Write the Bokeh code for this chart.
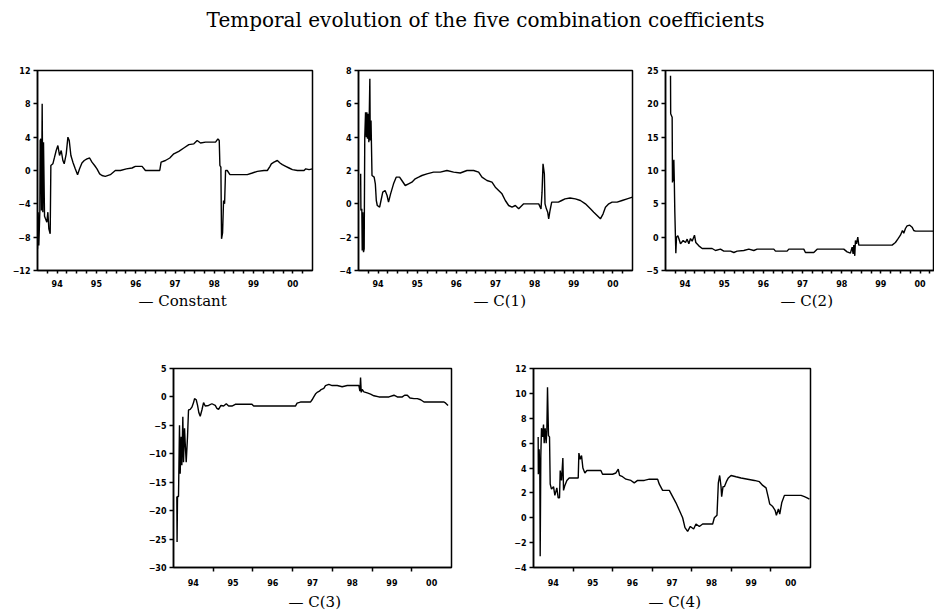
from bokeh.plotting import figure
from bokeh.models import Range1d, FixedTicker, CustomJSTickFormatter, Title, Spacer
from bokeh.layouts import column, row
from bokeh.embed import file_html
from bokeh.resources import INLINE
from bokeh.core.validation import silence
from bokeh.core.validation.warnings import MISSING_RENDERERS

silence(MISSING_RENDERERS, True)

TITLE = "Temporal evolution of the five combination coefficients"
YEARS = [1994, 1995, 1996, 1997, 1998, 1999, 2000]
X_END = 2001

# ---- series: decimal year / value ----
const_x = [1994.000, 1994.017, 1994.034, 1994.060, 1994.068, 1994.085, 1994.102, 1994.119, 1994.136, 1994.153,
           1994.179, 1994.204, 1994.238, 1994.264, 1994.289, 1994.323, 1994.340, 1994.391, 1994.434, 1994.476,
           1994.519, 1994.561, 1994.604, 1994.646, 1994.680, 1994.731, 1994.774, 1994.808, 1994.850, 1994.901,
           1994.961, 1995.020, 1995.071, 1995.131, 1995.190, 1995.259, 1995.327, 1995.386, 1995.454, 1995.514,
           1995.582, 1995.641, 1995.726, 1995.854, 1995.981, 1996.109, 1996.262, 1996.406, 1996.491, 1996.662,
           1996.747, 1996.917, 1997.044, 1997.112, 1997.146, 1997.257, 1997.367, 1997.469, 1997.597, 1997.724,
           1997.852, 1997.980, 1998.065, 1998.150, 1998.277, 1998.405, 1998.532, 1998.592, 1998.626, 1998.643,
           1998.668, 1998.685, 1998.711, 1998.736, 1998.762, 1998.787, 1998.830, 1998.898, 1999.000, 1999.170,
           1999.340, 1999.468, 1999.595, 1999.765, 1999.850, 1999.918, 1999.952, 2000.020, 2000.105, 2000.173,
           2000.233, 2000.318, 2000.403, 2000.488, 2000.616, 2000.786, 2000.828, 2000.913, 2000.998]
const_y = [-9.4, -5.0, -9.0, -4.8, 3.6, 3.8, -4.8, 8.0, -5.0, 3.4,
           -5.5, -5.8, -6.2, -5.0, -7.0, -7.6, 0.6, 0.8, 1.6, 2.4,
           3.0, 1.8, 2.4, 1.2, 0.8, 2.0, 4.0, 3.6, 1.8, 1.0,
           0.2, -0.5, 0.2, 0.9, 1.2, 1.4, 1.5, 1.0, 0.6, 0.2,
           -0.4, -0.6, -0.7, -0.5, 0.0, 0.0, 0.2, 0.3, 0.5, 0.5,
           0.0, 0.0, 0.0, 0.0, 1.0, 1.2, 1.5, 2.0, 2.3, 2.7,
           3.1, 3.2, 3.6, 3.3, 3.4, 3.4, 3.4, 3.8, 3.6, 0.6,
           0.4, -8.2, -7.5, -3.6, -4.0, 0.0, 0.0, -0.5, -0.5, -0.5,
           -0.5, -0.3, -0.1, 0.0, 0.0, 0.5, 0.8, 1.0, 1.2, 0.9,
           0.7, 0.5, 0.3, 0.1, 0.0, 0.0, 0.2, 0.1, 0.2]

c1_x = [1994.055, 1994.062, 1994.085, 1994.095, 1994.111, 1994.128, 1994.145, 1994.160, 1994.180, 1994.200,
        1994.213, 1994.230, 1994.250, 1994.264, 1994.290, 1994.300, 1994.320, 1994.345, 1994.400, 1994.430,
        1994.455, 1994.480, 1994.540, 1994.575, 1994.620, 1994.680, 1994.730, 1994.767, 1994.820, 1994.895,
        1994.963, 1995.049, 1995.108, 1995.194, 1995.279, 1995.364, 1995.449, 1995.535, 1995.620, 1995.748,
        1995.918, 1996.089, 1996.259, 1996.430, 1996.600, 1996.771, 1996.941, 1997.069, 1997.154, 1997.282,
        1997.410, 1997.495, 1997.581, 1997.666, 1997.751, 1997.836, 1997.922, 1998.007, 1998.092, 1998.220,
        1998.348, 1998.476, 1998.604, 1998.663, 1998.689, 1998.714, 1998.748, 1998.765, 1998.800, 1998.834,
        1998.859, 1998.893, 1998.936, 1999.021, 1999.106, 1999.191, 1999.276, 1999.404, 1999.540, 1999.669,
        1999.797, 1999.925, 2000.010, 2000.096, 2000.181, 2000.249, 2000.309, 2000.394, 2000.479, 2000.607,
        2000.735, 2000.863, 2001.000]
c1_y = [1.8, -0.4, -0.3, -2.8, -0.5, -2.9, -2.7, 4.0, 5.5, 4.0,
        5.5, 3.9, 5.4, 3.7, 7.5, 3.8, 5.0, 1.7, 1.6, 1.2,
        0.2, -0.1, -0.2, 0.2, 0.7, 0.8, 0.5, 0.1, 0.6, 1.2,
        1.6, 1.6, 1.4, 1.1, 1.2, 1.3, 1.5, 1.6, 1.7, 1.8,
        1.9, 1.9, 2.0, 1.9, 1.85, 2.0, 2.0, 1.9, 1.6, 1.4,
        1.3, 1.0, 0.8, 0.6, 0.2, -0.1, -0.2, -0.1, -0.3, 0.0,
        0.0, 0.0, 0.0, -0.3, 0.7, 2.4, 1.8, 0.0, -0.3, -0.5,
        -0.9, -0.4, 0.1, 0.1, 0.1, 0.2, 0.3, 0.35, 0.3, 0.2,
        0.0, -0.3, -0.5, -0.7, -0.9, -0.6, -0.2, 0.0, 0.1, 0.1,
        0.2, 0.3, 0.4]

c2_x = [1994.128, 1994.132, 1994.170, 1994.178, 1994.190, 1994.200, 1994.213, 1994.225, 1994.238, 1994.264,
        1994.281, 1994.315, 1994.340, 1994.383, 1994.451, 1994.511, 1994.553, 1994.596, 1994.638, 1994.681,
        1994.740, 1994.774, 1994.851, 1994.936, 1995.064, 1995.191, 1995.277, 1995.404, 1995.489, 1995.660,
        1995.745, 1995.830, 1996.000, 1996.128, 1996.255, 1996.340, 1996.766, 1996.809, 1997.106, 1997.149,
        1997.532, 1997.574, 1997.787, 1997.872, 1998.128, 1998.553, 1998.638, 1998.723, 1998.766, 1998.791,
        1998.809, 1998.834, 1998.851, 1998.877, 1998.911, 1998.936, 1999.149, 1999.489, 1999.660, 1999.787,
        1999.872, 1999.932, 2000.000, 2000.051, 2000.085, 2000.128, 2000.170, 2000.238, 2000.298, 2000.340,
        2000.383, 2000.596, 2000.894, 2001.000]
c2_y = [24.2, 18.5, 18.0, 8.2, 11.4, 8.4, 11.6, 8.4, 3.8, -2.4,
        0.0, 0.2, -0.2, -1.0, -0.5, -0.8, -0.3, -1.0, -0.2, -0.6,
        0.3, -0.8, -1.3, -1.7, -1.7, -1.7, -2.0, -1.8, -2.1, -2.1,
        -2.3, -2.1, -2.0, -1.8, -2.0, -1.8, -1.8, -2.1, -2.1, -1.8,
        -1.8, -2.3, -2.3, -1.8, -1.8, -1.8, -2.2, -2.4, -1.5, -2.5,
        -1.2, -2.8, -0.5, -1.0, 0.0, -1.2, -1.2, -1.2, -1.2, -1.2,
        -0.8, -0.3, 0.3, 1.0, 0.6, 1.3, 1.7, 1.8, 1.5, 1.0,
        0.9, 0.9, 0.9, 0.9]

c3_x = [1994.084, 1994.090, 1994.101, 1994.126, 1994.151, 1994.168, 1994.193, 1994.210, 1994.235, 1994.252,
        1994.278, 1994.294, 1994.320, 1994.353, 1994.378, 1994.421, 1994.463, 1994.505, 1994.530, 1994.572,
        1994.606, 1994.639, 1994.673, 1994.715, 1994.757, 1994.799, 1994.883, 1994.967, 1995.051, 1995.093,
        1995.135, 1995.194, 1995.262, 1995.329, 1995.388, 1995.472, 1995.556, 1995.682, 1995.850, 1995.976,
        1996.018, 1996.355, 1996.775, 1997.070, 1997.112, 1997.196, 1997.364, 1997.448, 1997.490, 1997.532,
        1997.574, 1997.616, 1997.675, 1997.717, 1997.785, 1997.827, 1997.911, 1997.995, 1998.121, 1998.247,
        1998.373, 1998.542, 1998.668, 1998.693, 1998.710, 1998.727, 1998.752, 1998.794, 1998.878, 1998.962,
        1999.046, 1999.172, 1999.299, 1999.425, 1999.551, 1999.635, 1999.761, 1999.820, 1999.887, 1999.955,
        2000.056, 2000.140, 2000.224, 2000.308, 2000.476, 2000.644, 2000.812, 2000.854, 2000.913]
c3_y = [-17.5, -25.5, -17.5, -17.5, -5.0, -13.5, -7.0, -12.0, -3.5, -11.5,
        -5.5, -8.0, -11.5, -7.0, -2.3, -2.2, -1.8, -1.0, -0.3, -0.5,
        -1.5, -2.8, -3.4, -2.3, -1.0, -1.6, -1.5, -1.2, -1.5, -2.0,
        -2.2, -1.5, -1.6, -1.2, -1.6, -1.6, -1.3, -1.3, -1.3, -1.3,
        -1.6, -1.6, -1.6, -1.6, -1.1, -0.9, -0.9, -0.9, -0.5, 0.0,
        0.5, 0.8, 1.0, 1.3, 1.5, 2.0, 2.2, 2.0, 2.0, 1.8,
        2.0, 2.0, 2.0, 1.0, 3.4, 0.8, 1.3, 0.9, 0.7, 0.5,
        0.2, 0.0, 0.0, 0.0, 0.3, 0.0, 0.0, 0.3, 0.3, -0.2,
        -0.3, -0.3, -0.5, -0.9, -0.9, -0.9, -0.9, -1.1, -1.5]

c4_x = [1994.118, 1994.122, 1994.143, 1994.160, 1994.169, 1994.185, 1994.202, 1994.228, 1994.253, 1994.270,
        1994.295, 1994.320, 1994.337, 1994.354, 1994.379, 1994.405, 1994.422, 1994.455, 1994.506, 1994.540,
        1994.590, 1994.624, 1994.658, 1994.675, 1994.708, 1994.742, 1994.759, 1994.793, 1994.843, 1994.902,
        1994.987, 1995.071, 1995.130, 1995.147, 1995.180, 1995.214, 1995.248, 1995.298, 1995.349, 1995.450,
        1995.577, 1995.703, 1995.745, 1995.872, 1995.998, 1996.083, 1996.142, 1996.175, 1996.251, 1996.336,
        1996.462, 1996.546, 1996.631, 1996.799, 1996.926, 1997.137, 1997.179, 1997.263, 1997.432, 1997.516,
        1997.600, 1997.685, 1997.769, 1997.828, 1997.895, 1997.963, 1998.047, 1998.106, 1998.191, 1998.275,
        1998.401, 1998.528, 1998.570, 1998.637, 1998.671, 1998.705, 1998.739, 1998.755, 1998.789, 1998.823,
        1998.874, 1998.924, 1998.992, 1999.118, 1999.245, 1999.413, 1999.582, 1999.708, 1999.793, 1999.877,
        1999.936, 1999.970, 2000.046, 2000.105, 2000.138, 2000.189, 2000.223, 2000.273, 2000.341, 2000.509,
        2000.762, 2000.846, 2000.914, 2000.973]
c4_y = [6.5, 3.5, 5.5, 3.5, -3.1, 5.0, 7.2, 6.5, 7.5, 6.0,
        7.2, 6.0, 7.0, 10.5, 6.6, 6.5, 2.7, 2.3, 2.5, 1.8,
        2.4, 1.6, 1.6, 3.8, 3.0, 4.8, 2.2, 2.6, 3.0, 3.2,
        3.2, 3.2, 3.2, 5.2, 4.7, 5.0, 4.0, 3.6, 3.8, 3.8,
        3.8, 3.8, 3.5, 3.5, 3.5, 3.6, 3.9, 3.4, 3.3, 3.1,
        3.0, 2.8, 3.0, 3.0, 3.1, 3.1, 2.7, 2.2, 2.2, 1.7,
        1.2, 0.6, 0.0, -0.8, -1.1, -0.7, -0.9, -0.5, -0.7, -0.5,
        -0.5, -0.5, 0.0, 0.2, 2.8, 3.4, 2.5, 1.7, 2.5, 2.5,
        2.9, 3.2, 3.4, 3.3, 3.2, 3.1, 3.0, 2.9, 2.6, 2.4,
        1.6, 1.1, 0.9, 0.6, 0.2, 0.7, 0.3, 1.2, 1.8, 1.8,
        1.8, 1.7, 1.6, 1.5]

const_ticks = [-12, -8, -4, 0, 4, 8, 12]
c1_ticks = [-4, -2, 0, 2, 4, 6, 8]
c2_ticks = [-5, 0, 5, 10, 15, 20, 25]
c3_ticks = [-30, -25, -20, -15, -10, -5, 0, 5]
c4_ticks = [-4, -2, 0, 2, 4, 6, 8, 10, 12]

LABEL_POS = [y + 0.5 for y in YEARS]
QUARTER_TICKS = [y + q for y in YEARS for q in (0.0, 0.25, 0.5, 0.75)][1:]
YEAR_TICKS = YEARS[1:]

fmt = CustomJSTickFormatter(code="return String(Math.floor(tick)).slice(2);")


def panel(name, xs, ys, yticks, x_end, width, height, bl, br, bt, bb, quarterly, key_offset, key_standoff):
    p = figure(width=width, height=height, x_range=Range1d(YEARS[0], x_end),
               y_range=Range1d(yticks[0], yticks[-1]), toolbar_location=None,
               output_backend="svg", min_border_left=bl, min_border_right=br,
               min_border_top=bt, min_border_bottom=bb)
    p.line(xs, ys, line_color="black", line_width=1.4)
    p.xgrid.grid_line_color = None
    p.ygrid.grid_line_color = None
    p.outline_line_color = "black"
    p.outline_line_width = 1.5
    p.background_fill_color = "white"
    p.border_fill_color = "white"

    xa = p.xaxis[0]
    xa.ticker = FixedTicker(ticks=LABEL_POS,
                            minor_ticks=QUARTER_TICKS if quarterly else YEAR_TICKS)
    xa.formatter = fmt
    xa.major_tick_out = 0
    xa.major_tick_in = 0
    xa.minor_tick_in = 0
    xa.minor_tick_out = 3 if quarterly else 4
    xa.minor_tick_line_color = "black"
    xa.minor_tick_line_width = 1.5
    xa.major_label_standoff = 6 if quarterly else 7

    ya = p.yaxis[0]
    ya.ticker = FixedTicker(ticks=yticks)
    ya.major_tick_out = 4
    ya.major_tick_in = 0
    ya.minor_tick_line_color = None
    ya.major_label_standoff = 3

    for ax in (xa, ya):
        ax.axis_line_color = "black"
        ax.axis_line_width = 1.5
        ax.major_tick_line_color = "black"
        ax.major_tick_line_width = 1.5
        ax.major_label_text_font = "DejaVu Sans"
        ax.major_label_text_font_size = "8px"
        ax.major_label_text_font_style = "bold"
        ax.major_label_text_color = "black"

    # series key under the panel: a dash followed by the series name
    key = Title(text="\u2014 " + name, align="left", offset=key_offset,
                standoff=key_standoff, text_font="DejaVu Serif",
                text_font_size="15px", text_font_style="normal", text_color="black")
    p.add_layout(key, "below")
    return p


header = figure(width=934, height=48, toolbar_location=None, output_backend="svg",
                x_range=Range1d(0, 1), y_range=Range1d(0, 1), min_border=0,
                min_border_left=36, min_border_top=3)
header.title.text = TITLE
header.title.align = "center"
header.title.text_font = "DejaVu Serif"
header.title.text_font_size = "20px"
header.title.text_font_style = "normal"
header.title.text_color = "black"
header.axis.visible = False
header.xgrid.grid_line_color = None
header.ygrid.grid_line_color = None
header.outline_line_color = None

p1 = panel("Constant", const_x, const_y, const_ticks, X_END, 322, 265, 37, 10, 19, 43, True, 101, 0)
p2 = panel("C(1)", c1_x, c1_y, c1_ticks, X_END, 321, 265, 36, 11, 22, 41, True, 115, 0)
p3 = panel("C(2)", c2_x, c2_y, c2_ticks, 2000.87, 291, 265, 22, 0, 22, 43, True, 115, 0)
p4 = panel("C(3)", c3_x, c3_y, c3_ticks, X_END, 352, 302, 35, 39, 55, 47, False, 115, 4)
p5 = panel("C(4)", c4_x, c4_y, c4_ticks, X_END, 340, 302, 43, 20, 53, 48, False, 115, 4)

layout = column(header,
                row(p1, p2, p3),
                row(Spacer(width=138, height=302), p4, p5))

open("out.html", "w").write(file_html(layout, INLINE))
